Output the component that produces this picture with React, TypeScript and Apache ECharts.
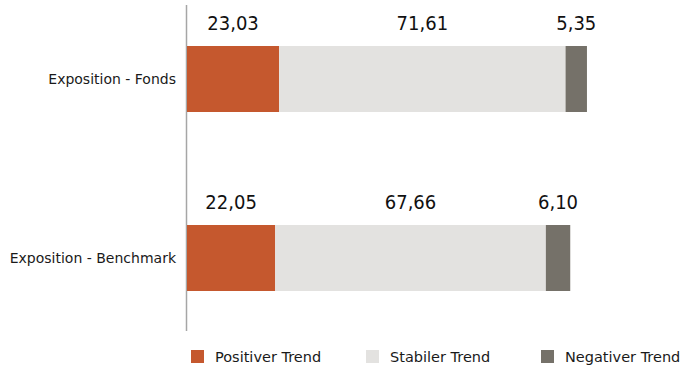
import React, { useEffect, useRef } from "react";
import * as echarts from "echarts";

const categories = ["Exposition - Fonds", "Exposition - Benchmark"];
const seriesNames = ["Positiver Trend", "Stabiler Trend", "Negativer Trend"];
const positiv = [23.03, 22.05];
const stabil = [71.61, 67.66];
const negativ = [5.35, 6.1];
const colors = ["#C5582E", "#E3E2E0", "#757169"];

const FONT = "DejaVu Sans";

export default function App() {
  const ref = useRef<HTMLDivElement>(null);

  useEffect(() => {
    if (!ref.current) return;
    const chart = echarts.init(ref.current, null, { renderer: "svg" });
    const values = [positiv, stabil, negativ];

    const series = seriesNames.map((name, i) => ({
      name,
      type: "bar",
      stack: "total",
      barWidth: 66,
      data: values[i],
      itemStyle: { color: colors[i] },
      label: {
        show: true,
        position: "top",
        distance: 13,
        fontFamily: "DejaVu Sans Condensed",
        fontSize: 20,
        color: "#111111",
        formatter: (p: any) => Number(p.value).toFixed(2).replace(".", ","),
      },
    }));

    // legend boxes have 5px padding, so each block starts 5px left of its icon
    const legendLefts = [186, 361, 536];
    const legend = seriesNames.map((name, i) => ({
      data: [name],
      left: legendLefts[i],
      top: 344,
      itemWidth: 13,
      itemHeight: 13,
      icon: "rect",
      selectedMode: false,
      textStyle: {
        fontFamily: FONT,
        fontSize: 14.5,
        color: "#1a1a1a",
        padding: [0, 0, 0, 6],
      },
    }));

    chart.setOption({
      animation: false,
      grid: { left: 187, top: 79, width: 400, height: 179, containLabel: false },
      xAxis: {
        type: "value",
        min: 0,
        max: 100,
        show: false,
      },
      yAxis: {
        type: "category",
        data: categories,
        inverse: true,
        boundaryGap: false,
        axisLine: { show: false },
        axisTick: { show: false },
        splitLine: { show: false },
        axisLabel: {
          margin: 11,
          fontFamily: FONT,
          fontSize: 14,
          color: "#1a1a1a",
        },
      },
      legend,
      series,
      graphic: [
        {
          type: "line",
          shape: { x1: 186.5, y1: 5, x2: 186.5, y2: 331 },
          style: { stroke: "#A6A6A6", lineWidth: 1.5 },
          silent: true,
        },
      ],
    });

    return () => chart.dispose();
  }, []);

  return (
    <div
      ref={ref}
      style={{ position: "fixed", left: 0, top: 0, width: 680, height: 368, background: "#ffffff" }}
    />
  );
}
